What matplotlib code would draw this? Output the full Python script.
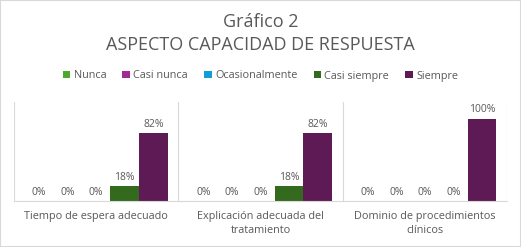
import matplotlib
matplotlib.use("Agg")
import matplotlib.pyplot as plt
from matplotlib.patches import Rectangle
import numpy as np

categories = ["Tiempo de espera adecuado", "Explicación adecuada del\ntratamiento", "Dominio de procedimientos\nclínicos"]
series_names = ["Nunca", "Casi nunca", "Ocasionalmente", "Casi siempre", "Siempre"]
nunca = [0.0, 0.0, 0.0]
casi_nunca = [0.0, 0.0, 0.0]
ocasionalmente = [0.0, 0.0, 0.0]
casi_siempre = [0.18, 0.18, 0.0]
siempre = [0.82, 0.82, 1.0]
colors = ["#4EA72E", "#A02B93", "#0F9ED5", "#336A1E", "#5E1A55"]

plt.rcParams['font.family'] = ['Open Sans', 'DejaVu Sans']
txt = "#595959"

fig = plt.figure(figsize=(5.21, 2.47), dpi=100)
fig.patches.append(Rectangle((0, 0), 1, 1, transform=fig.transFigure, fill=False,
                             edgecolor="#D9D9D9", linewidth=1.5))
ax = fig.add_axes([14/521, 1-201/247, (507-14)/521, (201-102)/247])

data = [nunca, casi_nunca, ocasionalmente, casi_siempre, siempre]
n = len(series_names)
w = 1/5.75
x = np.arange(len(categories))
handles = []
for i, (vals, c, name) in enumerate(zip(data, colors, series_names)):
    pos = x - 0.5 + 0.375*w + (i+0.5)*w
    b = ax.bar(pos, vals, width=w, color=c, label=name)
    handles.append(b)
    for p, v in zip(pos, vals):
        ax.text(p, v + 0.04, f"{v:.0%}", ha="center", va="bottom", fontsize=7.5, color=txt)

ax.set_xlim(-0.5, len(categories)-0.5)
ax.set_ylim(0, 1.2)
ax.set_yticks([])
ax.set_xticks(x)
ax.set_xticklabels(categories, fontsize=7.8, color=txt, linespacing=1.4)
ax.tick_params(axis="x", length=0, pad=7)
for s in ["top", "left", "right"]:
    ax.spines[s].set_visible(False)
ax.spines["bottom"].set_color("#D9D9D9")
for b in np.arange(-0.5, len(categories), 1.0):
    ax.axvline(b, color="#D9D9D9", linewidth=0.8)

fig.text(0.5, 1-22/247, "Gráfico 2", ha="center", va="center", fontsize=13, color=txt)
fig.text(0.5, 1-45/247, "ASPECTO CAPACIDAD DE RESPUESTA", ha="center", va="center", fontsize=13, color=txt)

leg = fig.legend(handles=handles, labels=series_names, loc="center", bbox_to_anchor=(0.5, 1-76/247),
                 ncol=5, frameon=False, fontsize=7.8, handlelength=0.7, handleheight=0.7,
                 handletextpad=0.3, columnspacing=1.5, labelcolor=txt)

fig.savefig("out.png", dpi=100)
